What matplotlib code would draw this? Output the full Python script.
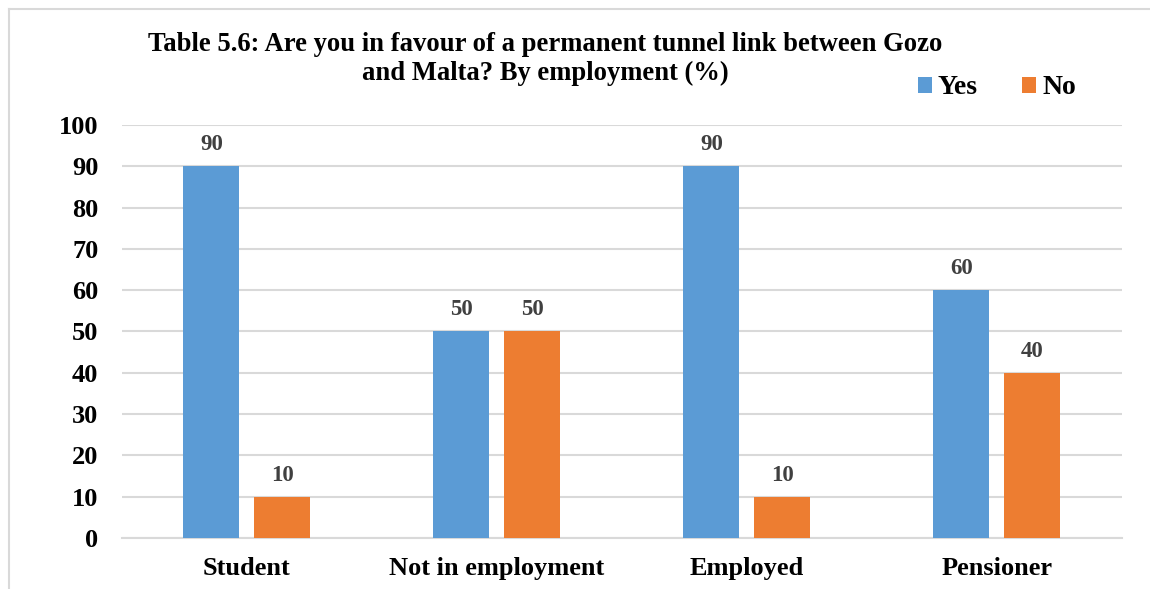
import matplotlib.pyplot as plt
import numpy as np
from matplotlib.lines import Line2D


# =====================================
# Data
# =====================================

categories = ["Student", "Not in employment", "Employed", "Pensioner"]
yes_values = [90, 50, 90, 60]
no_values = [10, 50, 10, 40]


# =====================================
# Style
# =====================================

plt.rcParams["font.family"] = ["Liberation Serif", "DejaVu Serif"]
plt.rcParams["font.weight"] = "bold"

BLUE = "#5B9BD5"
ORANGE = "#ED7D31"
GRID = "#D9D9D9"


# =====================================
# Create Chart
# =====================================

fig = plt.figure(figsize=(11.5, 5.89), dpi=100)
ax = fig.add_axes([0.106, 0.0866, 0.8696, 0.7012])

x = np.arange(len(categories))
width = 0.224
offset = 0.142

bars_yes = ax.bar(x - offset, yes_values, width, color=BLUE, label="Yes", zorder=3)
bars_no = ax.bar(x + offset, no_values, width, color=ORANGE, label="No", zorder=3)

for bars in (bars_yes, bars_no):
    for b in bars:
        ax.annotate(
            f"{int(b.get_height())}",
            (b.get_x() + b.get_width() / 2, b.get_height()),
            xytext=(0, 8),
            textcoords="offset points",
            ha="center",
            va="bottom",
            fontsize=16.5,
            fontweight="bold",
            color="#404040",
        )

ax.set_xlim(-0.5, 3.5)
ax.set_ylim(0, 100)
ax.set_yticks(range(0, 101, 10))
ax.set_xticks(x)
ax.set_xticklabels(categories)

ax.tick_params(axis="both", length=0, labelsize=19)
ax.tick_params(axis="x", pad=14)
ax.tick_params(axis="y", pad=17)
for lbl in ax.get_xticklabels() + ax.get_yticklabels():
    lbl.set_fontweight("bold")

ax.grid(axis="y", color=GRID, linewidth=1.5, zorder=0)
for side in ("top", "right", "left"):
    ax.spines[side].set_visible(False)
ax.spines["bottom"].set_color(GRID)
ax.spines["bottom"].set_linewidth(1.5)

# title
fig.text(
    0.474, 1 - 59 / 589,
    "Table 5.6: Are you in favour of a permanent tunnel link between Gozo\nand Malta? By employment (%)",
    ha="center", va="center", fontsize=19.2, fontweight="bold",
    linespacing=1.2,
)

# legend
fig.legend(
    loc="center left",
    bbox_to_anchor=(0.798, 1 - 88 / 589),
    ncol=2,
    frameon=False,
    borderpad=0,
    borderaxespad=0,
    handlelength=0.5,
    handleheight=0.5,
    handletextpad=0.22,
    columnspacing=1.6,
    prop={"weight": "bold", "size": 20},
)

# chart frame (left & top border)
fig.add_artist(Line2D([0.0075, 0.0075], [0.0, 0.984], color=GRID, linewidth=1.5))
fig.add_artist(Line2D([0.0075, 1.0], [0.984, 0.984], color=GRID, linewidth=1.5))


# =====================================
# Save Image
# =====================================

plt.savefig("out.png", dpi=100)
plt.close()
